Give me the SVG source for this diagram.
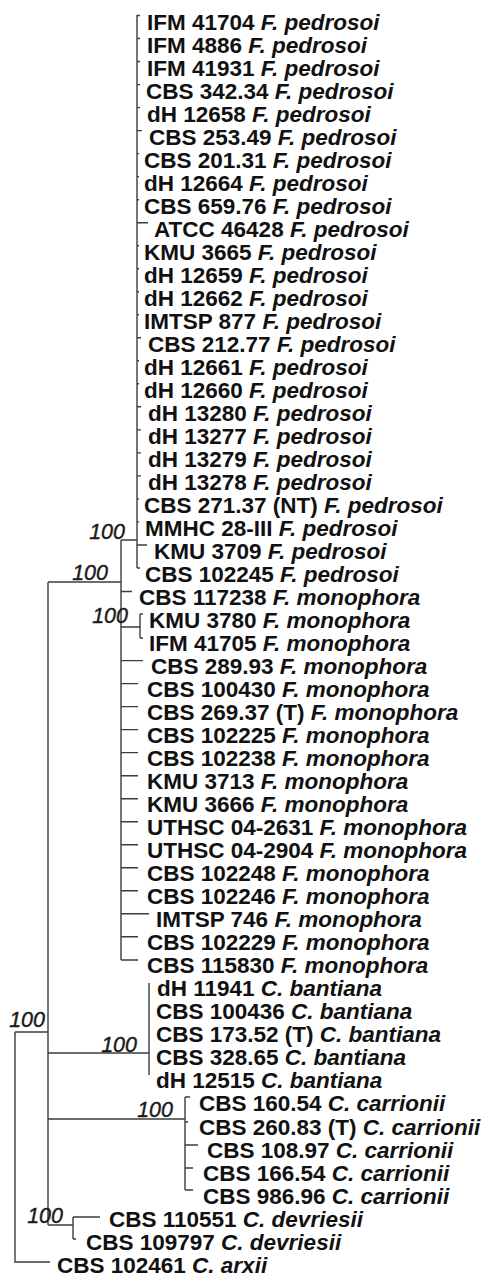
<svg xmlns="http://www.w3.org/2000/svg" width="487" height="1276" viewBox="0 0 487 1276">
<style>
.t{font-family:"Liberation Sans",Arial,Helvetica,sans-serif;font-size:22.5px;font-weight:bold;fill:#111}
.i{font-style:italic}
.bs{font-family:"Liberation Sans",Arial,Helvetica,sans-serif;font-size:21.5px;font-style:italic;fill:#1a1a1a;stroke:#1a1a1a;stroke-width:0.4;text-anchor:end}
.e{stroke:#3c3c3c;stroke-width:1.4;fill:none}
</style>
<rect width="487" height="1276" fill="#fff"/>
<g id="connectors" class="e">
<path d="M15,1032V1262H50M15,1032H48"/>
<path d="M48,582V1225"/>
<path d="M48,582H121M121,540V960"/>
<path d="M121,540H137M137,15V568"/>
<path d="M137,15.5H140M137,38.5H140M137,61.5H140M137,84.6H140M137,107.6H140M137,130.6H142M137,153.6H139M137,176.6H139M137,199.7H139M137,222.7H148M137,245.7H139M137,268.7H139M137,291.7H139M137,314.8H139M137,337.8H141M137,360.8H139M137,383.8H139M137,406.8H141M137,429.9H141M137,452.9H141M137,475.9H141M137,498.9H139M137,521.9H139M137,545H147M137,568H140"/>
<path d="M121,591.5H132M121,627H140M140,614V638M140,614H143M140,638H143M121,660.6H143"/>
<path d="M121,683.6H138M121,706.6H138M121,729.6H138M121,752.6H138M121,775.7H138M121,798.7H138M121,821.7H138M121,844.7H138M121,867.7H138M121,890.8H138M121,913.8H149M121,936.8H138M121,960H138"/>
<path d="M48,1053H149M149,983V1075"/>
<path d="M48,1119H185M185,1097V1190M185,1097H190M185,1122H188M185,1145H198M185,1168H193M185,1190H193"/>
<path d="M48,1225H73M73,1217V1239M73,1217H100M73,1239H76"/>
</g>
<g id="support">
<text class="bs" x="125" y="539">100</text>
<text class="bs" x="108" y="580">100</text>
<text class="bs" x="128" y="623">100</text>
<text class="bs" x="45" y="1027">100</text>
<text class="bs" x="137" y="1052">100</text>
<text class="bs" x="173" y="1117">100</text>
<text class="bs" x="63" y="1223">100</text>
</g>
<g id="leaves" class="t">
<text id="n0" x="147" y="29.5">IFM 41704 <tspan class="i">F. pedrosoi</tspan></text>
<text id="n1" x="147" y="52.5">IFM 4886 <tspan class="i">F. pedrosoi</tspan></text>
<text id="n2" x="147" y="75.5">IFM 41931 <tspan class="i">F. pedrosoi</tspan></text>
<text id="n3" x="146" y="98.6">CBS 342.34 <tspan class="i">F. pedrosoi</tspan></text>
<text id="n4" x="147" y="121.6">dH 12658 <tspan class="i">F. pedrosoi</tspan></text>
<text id="n5" x="149" y="144.6">CBS 253.49 <tspan class="i">F. pedrosoi</tspan></text>
<text id="n6" x="144" y="167.6">CBS 201.31 <tspan class="i">F. pedrosoi</tspan></text>
<text id="n7" x="144" y="190.6">dH 12664 <tspan class="i">F. pedrosoi</tspan></text>
<text id="n8" x="144" y="213.7">CBS 659.76 <tspan class="i">F. pedrosoi</tspan></text>
<text id="n9" x="154" y="236.7">ATCC 46428 <tspan class="i">F. pedrosoi</tspan></text>
<text id="n10" x="144" y="259.7">KMU 3665 <tspan class="i">F. pedrosoi</tspan></text>
<text id="n11" x="144" y="282.7">dH 12659 <tspan class="i">F. pedrosoi</tspan></text>
<text id="n12" x="144" y="305.7">dH 12662 <tspan class="i">F. pedrosoi</tspan></text>
<text id="n13" x="144" y="328.8">IMTSP 877 <tspan class="i">F. pedrosoi</tspan></text>
<text id="n14" x="148" y="351.8">CBS 212.77 <tspan class="i">F. pedrosoi</tspan></text>
<text id="n15" x="144" y="374.8">dH 12661 <tspan class="i">F. pedrosoi</tspan></text>
<text id="n16" x="144" y="397.8">dH 12660 <tspan class="i">F. pedrosoi</tspan></text>
<text id="n17" x="148" y="420.8">dH 13280 <tspan class="i">F. pedrosoi</tspan></text>
<text id="n18" x="148" y="443.9">dH 13277 <tspan class="i">F. pedrosoi</tspan></text>
<text id="n19" x="148" y="466.9">dH 13279 <tspan class="i">F. pedrosoi</tspan></text>
<text id="n20" x="148" y="489.9">dH 13278 <tspan class="i">F. pedrosoi</tspan></text>
<text id="n21" x="144" y="512.9">CBS 271.37 (NT) <tspan class="i">F. pedrosoi</tspan></text>
<text id="n22" x="145" y="535.9">MMHC 28-III <tspan class="i">F. pedrosoi</tspan></text>
<text id="n23" x="154" y="559">KMU 3709 <tspan class="i">F. pedrosoi</tspan></text>
<text id="n24" x="145" y="582">CBS 102245 <tspan class="i">F. pedrosoi</tspan></text>
<text id="n25" x="139" y="605">CBS 117238 <tspan class="i">F. monophora</tspan></text>
<text id="n26" x="149" y="628">KMU 3780 <tspan class="i">F. monophora</tspan></text>
<text id="n27" x="149" y="651">IFM 41705 <tspan class="i">F. monophora</tspan></text>
<text id="n28" x="151" y="674.1">CBS 289.93 <tspan class="i">F. monophora</tspan></text>
<text id="n29" x="147" y="697.1">CBS 100430 <tspan class="i">F. monophora</tspan></text>
<text id="n30" x="147" y="720.1">CBS 269.37 (T) <tspan class="i">F. monophora</tspan></text>
<text id="n31" x="147" y="743.1">CBS 102225 <tspan class="i">F. monophora</tspan></text>
<text id="n32" x="147" y="766.1">CBS 102238 <tspan class="i">F. monophora</tspan></text>
<text id="n33" x="147" y="789.2">KMU 3713 <tspan class="i">F. monophora</tspan></text>
<text id="n34" x="147" y="812.2">KMU 3666 <tspan class="i">F. monophora</tspan></text>
<text id="n35" x="147" y="835.2">UTHSC 04-2631 <tspan class="i">F. monophora</tspan></text>
<text id="n36" x="147" y="858.2">UTHSC 04-2904 <tspan class="i">F. monophora</tspan></text>
<text id="n37" x="147" y="881.2">CBS 102248 <tspan class="i">F. monophora</tspan></text>
<text id="n38" x="147" y="904.3">CBS 102246 <tspan class="i">F. monophora</tspan></text>
<text id="n39" x="156" y="927.3">IMTSP 746 <tspan class="i">F. monophora</tspan></text>
<text id="n40" x="147" y="950.3">CBS 102229 <tspan class="i">F. monophora</tspan></text>
<text id="n41" x="147" y="973.3">CBS 115830 <tspan class="i">F. monophora</tspan></text>
<text id="n42" x="157" y="996.3">dH 11941 <tspan class="i">C. bantiana</tspan></text>
<text id="n43" x="156" y="1019.4">CBS 100436 <tspan class="i">C. bantiana</tspan></text>
<text id="n44" x="156" y="1042.4">CBS 173.52 (T) <tspan class="i">C. bantiana</tspan></text>
<text id="n45" x="156" y="1065.4">CBS 328.65 <tspan class="i">C. bantiana</tspan></text>
<text id="n46" x="156" y="1088.4">dH 12515 <tspan class="i">C. bantiana</tspan></text>
<text id="n47" x="199" y="1111.4">CBS 160.54 <tspan class="i">C. carrionii</tspan></text>
<text id="n48" x="199" y="1134.5">CBS 260.83 (T) <tspan class="i">C. carrionii</tspan></text>
<text id="n49" x="207" y="1157.5">CBS 108.97 <tspan class="i">C. carrionii</tspan></text>
<text id="n50" x="203" y="1180.5">CBS 166.54 <tspan class="i">C. carrionii</tspan></text>
<text id="n51" x="203" y="1203.5">CBS 986.96 <tspan class="i">C. carrionii</tspan></text>
<text id="n52" x="109" y="1226.5">CBS 110551 <tspan class="i">C. devriesii</tspan></text>
<text id="n53" x="86" y="1249.6">CBS 109797 <tspan class="i">C. devriesii</tspan></text>
<text id="n54" x="57" y="1272.6">CBS 102461 <tspan class="i">C. arxii</tspan></text>
</g>
</svg>
